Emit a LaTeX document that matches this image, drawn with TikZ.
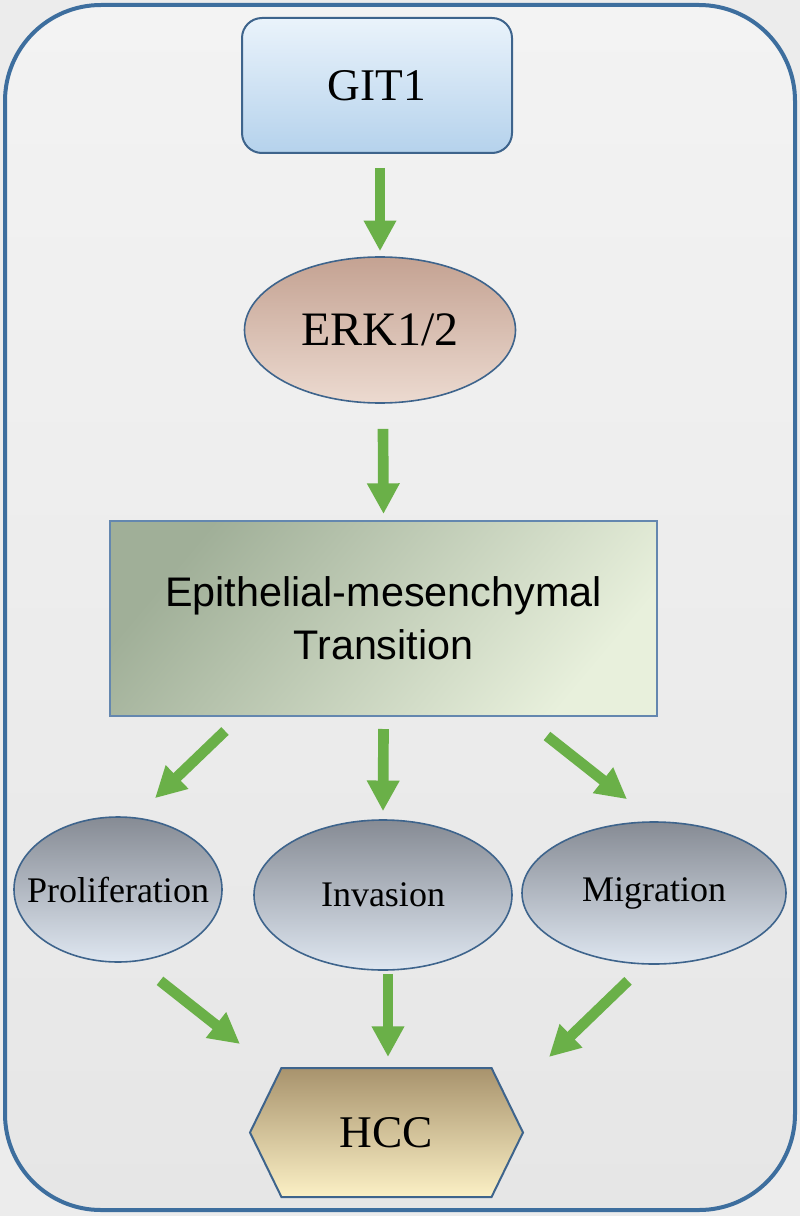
\documentclass[tikz,border=0pt]{standalone}
\usepackage{fontspec}
\setmainfont{Liberation Serif}
\newfontfamily\arialfont{Liberation Sans}
\usetikzlibrary{arrows.meta,shapes.geometric,shapes.symbols,calc}
\definecolor{frameblue}{RGB}{61,110,158}
\definecolor{edgeblue}{RGB}{62,100,140}
\definecolor{arrgreen}{RGB}{106,176,72}
\tikzset{
  arr/.style={draw=arrgreen, line width=8pt, -{Triangle[width=23pt,length=23pt]}},
  gitbox/.style={rectangle, rounded corners=15pt, draw=edgeblue, line width=1.5pt,
    top color={rgb,255:red,234;green,243;blue,251}, bottom color={rgb,255:red,181;green,210;blue,236},
    minimum width=202.5pt, minimum height=101.25pt, font=\fontsize{34}{40}\selectfont},
  erkell/.style={ellipse, draw=edgeblue, line width=1.2pt,
    top color={rgb,255:red,196;green,162;blue,146}, bottom color={rgb,255:red,236;green,218;blue,208},
    minimum width=203.25pt, minimum height=109.5pt, inner sep=0pt, font=\fontsize{36}{42}\selectfont},
  emtbox/.style={rectangle, draw={rgb,255:red,100;green,135;blue,175}, line width=1.5pt,
    top color={rgb,255:red,160;green,175;blue,152}, bottom color={rgb,255:red,232;green,240;blue,220}, shading angle=50,
    minimum width=410.25pt, minimum height=146.25pt, align=center, font=\arialfont\fontsize{31}{40}\selectfont},
  outell/.style={ellipse, draw=edgeblue, line width=1.2pt,
    top color={rgb,255:red,134;green,139;blue,148}, bottom color={rgb,255:red,222;green,230;blue,240},
    inner sep=0pt, font=\fontsize{27}{32}\selectfont},
  hccbox/.style={signal, signal to=west and east, signal pointer angle=128, draw=edgeblue, line width=1.5pt,
    top color={rgb,255:red,168;green,147;blue,109}, bottom color={rgb,255:red,251;green,240;blue,197},
    minimum width=204.75pt, minimum height=96.75pt, inner sep=0pt, font=\fontsize{34}{40}\selectfont}
}
\begin{document}
\begin{tikzpicture}[x=0.75pt,y=-0.75pt]
\useasboundingbox (0,0) rectangle (800,1216);
\path[fill={rgb,255:red,236;green,236;blue,236}] (0,0) rectangle (800,1216);
\draw[frameblue, line width=3pt, rounded corners=72pt,
  top color={rgb,255:red,243;green,243;blue,243}, bottom color={rgb,255:red,230;green,230;blue,230}]
  (5,5) rectangle (795,1210);

\node[gitbox] (git) at (377,85.5) {GIT1};
\node[erkell] (erk) at (380,330) {\makebox[0pt]{ERK1/2}};
\node[emtbox] (emt) at (383.5,618.5) {Epithelial-mesenchymal\\Transition};
\node[outell, minimum width=156pt, minimum height=108.75pt] (pro) at (118,889.5) {\makebox[0pt]{Proliferation}};
\node[outell, minimum width=193.5pt, minimum height=112.5pt] (inv) at (383,895) {\makebox[0pt]{Invasion}};
\node[outell, minimum width=198pt, minimum height=106.5pt] (mig) at (654,893) {\makebox[0pt]{Migration}};
\node[hccbox] (hcc) at (386.5,1132.5) {HCC};

\draw[arr] ($(git.south)+(3,14)$) -- ($(erk.north)+(0,-5)$);
\draw[arr] ($(erk.south)+(3,25)$) -- ($(emt.north)+(0,-6)$);
\draw[arr] ($(emt.south)+(-158.5,14)$) -- ($(pro.north)+(37,-18)$);
\draw[arr] ($(emt.south)+(0,12)$) -- ($(inv.north)+(0,-8)$);
\draw[arr] ($(emt.south)+(163.5,19)$) -- ($(mig.north)+(-27,-22)$);
\draw[arr] ($(pro.south)+(42,18)$) -- ($(hcc.north)+(-146.5,-23)$);
\draw[arr] ($(inv.south)+(5,3)$) -- ($(hcc.north)+(1.5,-10)$);
\draw[arr] ($(mig.south)+(-26,16)$) -- ($(hcc.north)+(162.5,-10)$);
\end{tikzpicture}
\end{document}
